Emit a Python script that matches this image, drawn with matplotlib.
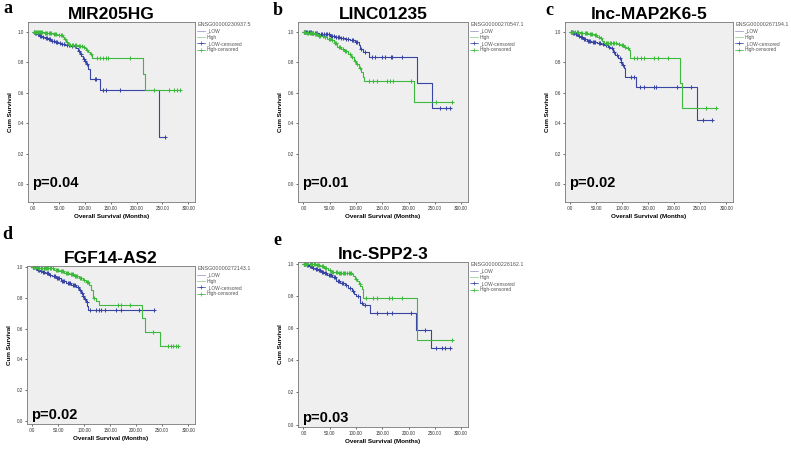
import numpy as np
import matplotlib
matplotlib.use("Agg")
import matplotlib.pyplot as plt
from matplotlib.lines import Line2D

plt.rcParams['font.family'] = ['Liberation Sans', 'DejaVu Sans']

blue = "#3845a5"
green = "#3dba3d"

# panel a - MIR205HG
a_low_t = [3, 7, 12, 17, 22, 28, 34, 41, 48, 54, 62, 73, 83, 86, 90, 93, 96, 100, 103, 107, 110, 129, 244]
a_low_s = [0.995, 0.985, 0.975, 0.968, 0.96, 0.95, 0.942, 0.935, 0.928, 0.921, 0.913, 0.906, 0.893, 0.871,
           0.856, 0.84, 0.823, 0.805, 0.79, 0.758, 0.692, 0.616, 0.308]
a_low_c = [2, 4, 6, 9, 11, 14, 16, 19, 24, 26, 30, 33, 37, 40, 44, 47, 51, 56, 60, 66, 70, 76, 80, 88, 92,
           98, 101, 105, 119, 122, 135, 140, 168, 255]
a_high_t = [10, 20, 28, 38, 47, 57, 60, 64, 67, 70, 86, 96, 100, 103, 106, 109, 113, 212, 216]
a_high_s = [0.997, 0.995, 0.99, 0.983, 0.976, 0.965, 0.95, 0.932, 0.92, 0.91, 0.906, 0.9, 0.89, 0.878,
            0.866, 0.856, 0.827, 0.723, 0.62]
a_high_c = [1, 3, 5, 7, 9, 12, 14, 16, 18, 22, 24, 26, 30, 33, 35, 40, 42, 44, 50, 53, 55, 62, 66, 72, 75,
            78, 80, 83, 88, 91, 94, 98, 105, 111, 123, 129, 135, 141, 144, 187, 234, 262, 272, 278, 284]

# panel b - LINC01235
b_low_t = [8, 15, 21, 30, 41, 50, 60, 70, 79, 88, 98, 105, 108, 113, 124, 216, 245]
b_low_s = [0.996, 0.993, 0.99, 0.987, 0.983, 0.975, 0.967, 0.96, 0.952, 0.945, 0.93, 0.913, 0.884, 0.87,
           0.836, 0.666, 0.498]
b_low_c = [1, 3, 5, 7, 10, 12, 14, 17, 19, 23, 25, 27, 33, 36, 39, 43, 46, 48, 52, 55, 58, 63, 66, 68, 72,
           75, 82, 85, 92, 95, 101, 103, 110, 118, 131, 136, 150, 156, 166, 169, 188, 260, 272, 278]
b_high_t = [5, 10, 20, 28, 35, 39, 45, 52, 58, 65, 72, 78, 85, 91, 96, 100, 105, 110, 113, 115, 210]
b_high_s = [0.995, 0.99, 0.987, 0.975, 0.97, 0.965, 0.955, 0.943, 0.925, 0.9, 0.885, 0.873, 0.855, 0.834,
            0.81, 0.79, 0.76, 0.736, 0.70, 0.675, 0.539]
b_high_c = [1, 2, 4, 7, 9, 12, 14, 16, 18, 22, 24, 26, 30, 32, 37, 42, 48, 50, 55, 60, 63, 68, 70, 75, 80,
            82, 88, 93, 98, 103, 108, 124, 133, 140, 160, 165, 170, 205, 253, 282]

# panel c - lnc-MAP2K6-5
c_low_t = [5, 10, 15, 19, 25, 32, 40, 52, 60, 65, 72, 77, 82, 87, 92, 97, 100, 103, 106, 127, 243]
c_low_s = [0.995, 0.985, 0.975, 0.967, 0.952, 0.941, 0.935, 0.928, 0.92, 0.913, 0.9, 0.89, 0.87, 0.847,
           0.825, 0.803, 0.78, 0.76, 0.705, 0.637, 0.421]
c_low_c = [1, 3, 6, 8, 12, 14, 17, 21, 23, 27, 29, 34, 36, 38, 43, 45, 48, 55, 57, 63, 68, 75, 80, 85, 90,
           95, 98, 102, 116, 122, 135, 141, 161, 165, 205, 232, 255, 273]
c_high_t = [8, 18, 26, 35, 45, 52, 58, 62, 65, 90, 96, 103, 108, 113, 115, 211, 214]
c_high_s = [0.997, 0.993, 0.99, 0.985, 0.978, 0.965, 0.956, 0.94, 0.928, 0.919, 0.91, 0.9, 0.89, 0.88,
            0.83, 0.662, 0.496]
c_high_c = [1, 3, 5, 10, 13, 15, 20, 23, 28, 30, 33, 38, 40, 42, 48, 50, 55, 60, 68, 70, 73, 76, 79, 82,
            85, 88, 93, 99, 101, 106, 111, 123, 129, 137, 142, 162, 168, 188, 261, 281]

# panel d - FGF14-AS2
d_low_t = [5, 10, 15, 19, 25, 32, 38, 45, 55, 65, 75, 84, 90, 94, 97, 100, 103, 106, 108]
d_low_s = [0.993, 0.985, 0.978, 0.972, 0.962, 0.95, 0.94, 0.928, 0.912, 0.896, 0.885, 0.874, 0.852, 0.83,
           0.81, 0.795, 0.777, 0.75, 0.722]
d_low_c = [1, 2, 4, 7, 9, 12, 14, 17, 21, 23, 28, 30, 35, 41, 43, 48, 50, 52, 58, 60, 62, 68, 70, 72, 78,
           80, 82, 88, 92, 96, 98, 102, 105, 111, 123, 129, 132, 140, 161, 171, 205, 235]
d_high_t = [10, 20, 32, 42, 52, 62, 71, 80, 90, 97, 103, 110, 113, 116, 123, 129, 212, 216, 245]
d_high_s = [0.998, 0.996, 0.993, 0.985, 0.976, 0.965, 0.954, 0.94, 0.928, 0.918, 0.907, 0.885, 0.852,
            0.803, 0.78, 0.755, 0.668, 0.581, 0.49]
d_high_c = [1, 3, 5, 7, 12, 14, 16, 18, 22, 24, 26, 28, 30, 35, 37, 40, 45, 47, 50, 55, 57, 60, 65, 67,
            69, 74, 76, 78, 83, 85, 87, 92, 94, 100, 105, 107, 118, 165, 171, 188, 232, 261, 266, 271,
            276, 281]

# panel e - lnc-SPP2-3
e_low_t = [5, 10, 17, 22, 28, 34, 40, 46, 55, 63, 70, 79, 85, 92, 97, 101, 108, 114, 127, 214, 243]
e_low_s = [0.993, 0.985, 0.972, 0.965, 0.958, 0.95, 0.942, 0.932, 0.915, 0.895, 0.88, 0.867, 0.85, 0.83,
           0.812, 0.797, 0.753, 0.742, 0.692, 0.59, 0.474]
e_low_c = [1, 3, 7, 9, 12, 14, 19, 24, 26, 30, 32, 36, 38, 42, 44, 48, 50, 52, 58, 60, 66, 68, 74, 76,
           82, 88, 95, 104, 111, 118, 140, 159, 169, 204, 232, 253, 263, 269, 279]
e_high_t = [10, 18, 24, 32, 40, 47, 53, 60, 66, 92, 95, 98, 102, 105, 108, 111, 114, 216]
e_high_s = [0.998, 0.996, 0.993, 0.985, 0.972, 0.96, 0.95, 0.945, 0.939, 0.934, 0.92, 0.906, 0.89,
            0.873, 0.86, 0.841, 0.786, 0.524]
e_high_c = [1, 2, 4, 6, 8, 12, 14, 16, 20, 22, 26, 28, 30, 35, 37, 42, 44, 50, 55, 57, 62, 64, 68, 70,
            72, 75, 78, 80, 83, 86, 88, 90, 100, 107, 120, 133, 140, 163, 169, 188, 282]

letters = ["a", "b", "c", "d", "e"]
titles = ["MIR205HG", "LINC01235", "lnc-MAP2K6-5", "FGF14-AS2", "lnc-SPP2-3"]
pvals = ["p=0.04", "p=0.01", "p=0.02", "p=0.02", "p=0.03"]
genes = ["ENSG00000230937.5", "ENSG00000270547.1", "ENSG00000267194.1",
         "ENSG00000272143.1", "ENSG00000228162.1"]
lows = [(a_low_t, a_low_s, a_low_c), (b_low_t, b_low_s, b_low_c), (c_low_t, c_low_s, c_low_c),
        (d_low_t, d_low_s, d_low_c), (e_low_t, e_low_s, e_low_c)]
highs = [(a_high_t, a_high_s, a_high_c), (b_high_t, b_high_s, b_high_c), (c_high_t, c_high_s, c_high_c),
         (d_high_t, d_high_s, d_high_c), (e_high_t, e_high_s, e_high_c)]

W, H = 791, 449
# axes boxes in pixels: left, top, right, bottom
boxes = [(28, 22, 195, 202), (298, 22, 468, 202), (565, 22, 733, 202),
         (27, 266, 195, 424), (298, 262, 468, 427)]
ylims = [(-0.118, 1.064), (-0.118, 1.064), (-0.118, 1.064), (-0.02, 1.008), (-0.015, 1.01)]


def km(ax, t, s, c, col):
    end = max(max(t), max(c))
    xs = np.concatenate([[0], t, [end]])
    ys = np.concatenate([[1.0], s, [s[-1]]])
    ax.step(xs, ys, where="post", color=col, lw=0.8)
    idx = np.searchsorted(t, c, side="right")
    ys_c = np.concatenate([[1.0], s])[idx]
    ax.plot(c, ys_c, ls="none", marker="+", ms=3.4, mew=0.75, color=col)


fig = plt.figure(figsize=(W / 100, H / 100), dpi=100)

for i in range(5):
    l, t, r, b = boxes[i]
    ax = fig.add_axes([l / W, 1 - b / H, (r - l) / W, (b - t) / H])
    ax.set_facecolor("#efefef")
    km(ax, *lows[i], blue)
    km(ax, *highs[i], green)
    ax.set_xlim(-10, 313)
    ax.set_ylim(*ylims[i])
    ax.set_xticks(np.arange(0, 301, 50))
    ax.set_xticklabels([".00", "50.00", "100.00", "150.00", "200.00", "250.00", "300.00"])
    ax.set_yticks(np.arange(0, 1.01, 0.2))
    ax.set_yticklabels(["0.0", "0.2", "0.4", "0.6", "0.8", "1.0"])
    ax.tick_params(labelsize=3.3, length=1.5, width=0.5, pad=1.5, colors="#333333")
    for sp in ax.spines.values():
        sp.set_color("#777777")
        sp.set_linewidth(0.6)
    ax.set_xlabel("Overall Survival (Months)", fontsize=4.5, fontweight="bold", labelpad=2)
    ax.set_ylabel("Cum Survival", fontsize=4.5, fontweight="bold", labelpad=3)
    ax.set_title(titles[i], fontsize=12.5, fontweight="bold", pad=2)
    ax.text(0.025, 0.085 if i < 3 else 0.03, pvals[i], transform=ax.transAxes,
            fontsize=10.5, fontweight="bold", va="baseline")

    handles = [Line2D([0], [0], color="#8890c0", lw=0.5),
               Line2D([0], [0], color="#88c888", lw=0.5),
               Line2D([0], [0], color=blue, lw=0.5, marker="+", ms=2.5, mew=0.5),
               Line2D([0], [0], color=green, lw=0.5, marker="+", ms=2.5, mew=0.5)]
    leg = ax.legend(handles, ["_LOW", "High", "_LOW-censored", "High-censored"],
                    title=genes[i], loc="upper left", bbox_to_anchor=(1.01, 1.0),
                    frameon=False, fontsize=3.5, title_fontsize=3.9, handlelength=1.6,
                    handletextpad=0.3, labelspacing=0.25, borderpad=0.1, borderaxespad=0,
                    alignment="left", labelcolor="#555555")
    leg.get_title().set_color("#555555")

# panel letters
letter_pos = [(3, 13), (273, 15), (545, 15), (2, 239), (273, 245)]
for (x, y), let in zip(letter_pos, letters):
    fig.text(x / W, 1 - y / H, let, fontsize=13, fontweight="bold",
             family="Liberation Serif", va="baseline")

fig.savefig("out.png", dpi=100)
